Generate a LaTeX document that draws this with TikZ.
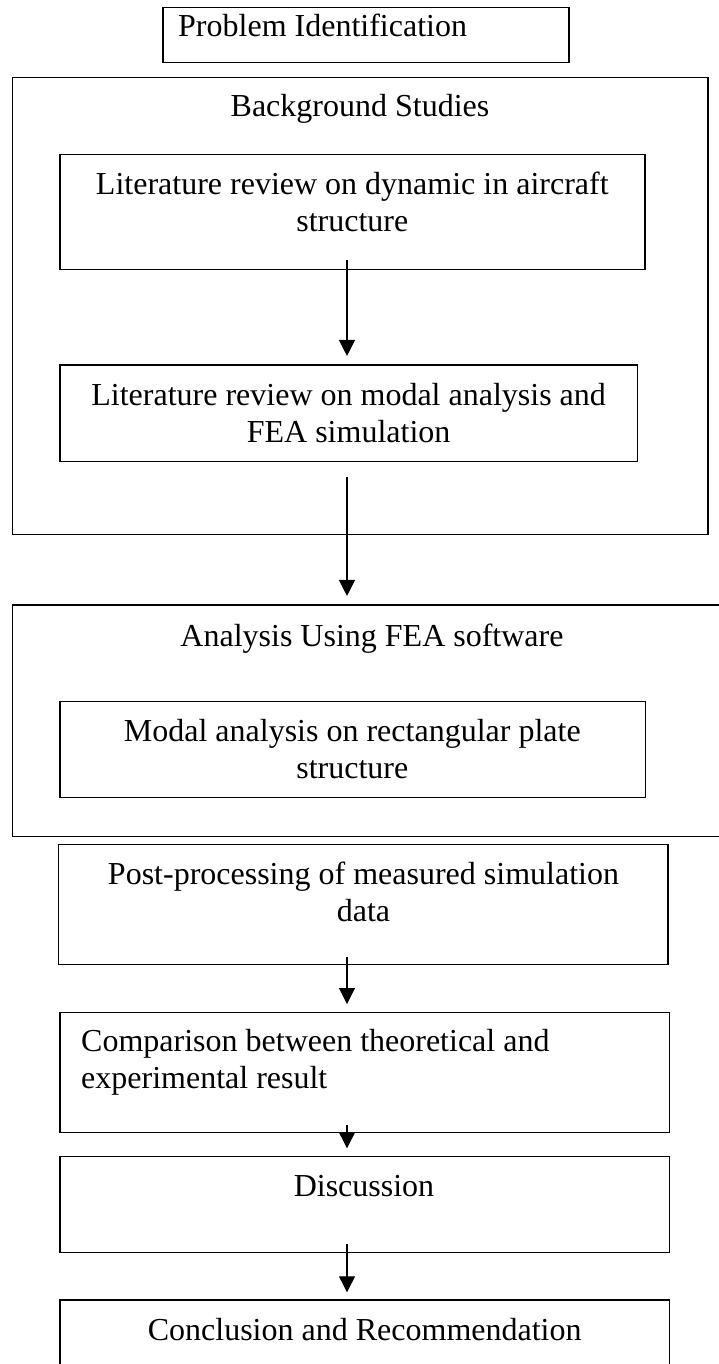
\documentclass[tikz,border=0pt]{standalone}
\usepackage{fontspec}
\setmainfont{Liberation Serif}
\usetikzlibrary{arrows.meta,calc}
\begin{document}
\begin{tikzpicture}[x=1pt,y=-1pt,
  box/.style={draw, line width=1.3pt, rectangle, inner sep=0pt, outer sep=0pt},
  lbl/.style={inner sep=0pt, font=\fontsize{32}{37}\selectfont, align=center},
  arr/.style={line width=1.1pt, -{Triangle[length=16pt,width=16pt]}}]
\useasboundingbox (0,0) rectangle (719,1364);
\clip (0,0) rectangle (719,1364);
\coordinate (ax) at (347,0);
% boxes
\node[box, minimum width=406pt, minimum height=55.5pt] (prob) at (366,35) {};
\node[box, minimum width=695.6pt, minimum height=457pt] (bg) at (360.2,305.8) {};
\node[box, minimum width=585pt, minimum height=115pt] (lit1) at (352.5,211.8) {};
\node[box, minimum width=577.6pt, minimum height=96.7pt] (lit2) at (348.8,413.3) {};
\node[box, minimum width=712.6pt, minimum height=231.7pt] (ana) at (368.7,720.8) {};
\node[box, minimum width=585.4pt, minimum height=95.6pt] (modal) at (352.7,749.5) {};
\node[box, minimum width=609.3pt, minimum height=120pt] (post) at (363.3,904.3) {};
\node[box, minimum width=609.7pt, minimum height=120.2pt] (comp) at (364.8,1072.4) {};
\node[box, minimum width=609.7pt, minimum height=95.6pt] (disc) at (364.8,1204.5) {};
\node[box, minimum width=609.7pt, minimum height=80pt] (concl) at (364.8,1340) {};
% texts
\node[lbl, anchor=base west] (tprob) at (178,37) {Problem Identification};
\node[lbl, anchor=base] (tbg) at (360,117) {Background Studies};
\node[lbl, anchor=base] (tlit1) at (352.3,232) {Literature review on dynamic in aircraft\\structure};
\node[lbl, anchor=base] (tlit2) at (348.6,442.7) {Literature review on modal analysis and\\FEA simulation};
\node[lbl, anchor=base] (tana) at (372,646) {Analysis Using FEA software};
\node[lbl, anchor=base] (tmodal) at (352.3,778) {Modal analysis on rectangular plate\\structure};
\node[lbl, anchor=base] (tpost) at (363.5,921.7) {Post-processing of measured simulation\\data};
\node[lbl, align=left, anchor=base west] (tcomp) at (81,1088.3) {Comparison between theoretical and\\experimental result};
\node[lbl, anchor=base] (tdisc) at (364,1196.7) {Discussion};
\node[lbl, anchor=base] (tconcl) at (364.7,1340) {Conclusion and Recommendation};
% arrows
\draw[arr] ($(lit1.south -| ax)+(0,-9.3)$) -- ($(lit2.north -| ax)+(0,-9)$);
\draw[arr] ($(lit2.south -| ax)+(0,15)$) -- ($(ana.north -| ax)+(0,-9)$);
\draw[arr] ($(post.south -| ax)+(0,-7.6)$) -- ($(comp.north -| ax)+(0,-8.3)$);
\draw[arr] ($(comp.south -| ax)+(0,-7.5)$) -- ($(disc.north -| ax)+(0,-8.4)$);
\draw[arr] ($(disc.south -| ax)+(0,-8)$) -- ($(concl.north -| ax)+(0,-7.7)$);
\end{tikzpicture}
\end{document}
